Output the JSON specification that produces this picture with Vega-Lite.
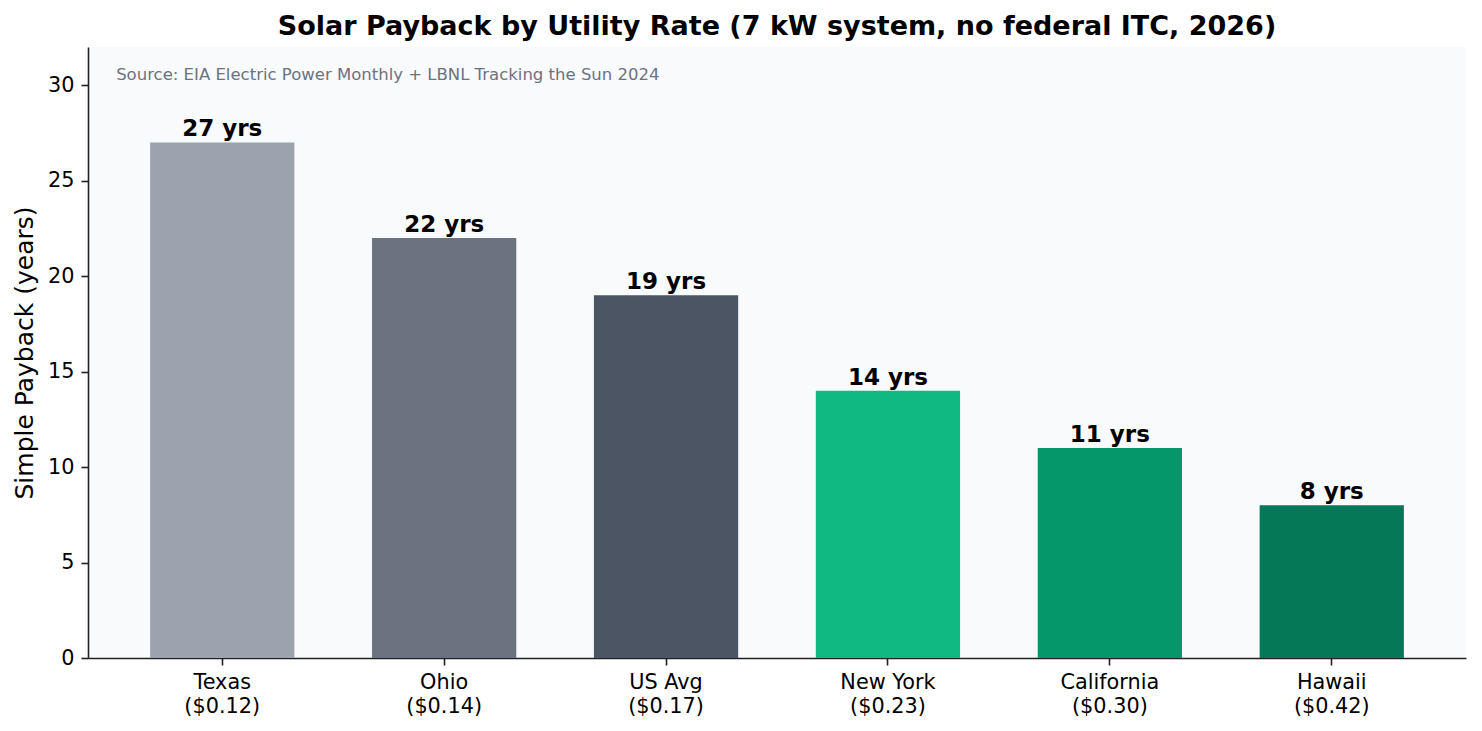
{
  "$schema": "https://vega.github.io/schema/vega-lite/v6.json",
  "width": 1378,
  "height": 611,
  "autosize": "none",
  "padding": {"left": 88, "top": 47, "right": 16, "bottom": 73},
  "background": "#ffffff",
  "config": {
    "font": "DejaVu Sans",
    "view": {"fill": "#f8fafc", "stroke": null},
    "axis": {"grid": false, "domainColor": "#222222", "domainWidth": 1.6, "tickColor": "#222222", "tickWidth": 1.6, "labelColor": "#000000", "titleColor": "#000000", "labelFont": "DejaVu Sans", "titleFont": "DejaVu Sans"}
  },
  "title": {
    "text": "Solar Payback by Utility Rate (7 kW system, no federal ITC, 2026)",
    "font": "DejaVu Sans",
    "fontSize": 27,
    "fontWeight": "bold",
    "color": "#000000",
    "anchor": "middle",
    "offset": 6
  },
  "data": {
    "values": [
      {"label": "Texas\n($0.12)", "years": 27, "text": "27 yrs", "color": "#9ca3af"},
      {"label": "Ohio\n($0.14)", "years": 22, "text": "22 yrs", "color": "#6b7280"},
      {"label": "US Avg\n($0.17)", "years": 19, "text": "19 yrs", "color": "#4b5563"},
      {"label": "New York\n($0.23)", "years": 14, "text": "14 yrs", "color": "#10b981"},
      {"label": "California\n($0.30)", "years": 11, "text": "11 yrs", "color": "#059669"},
      {"label": "Hawaii\n($0.42)", "years": 8, "text": "8 yrs", "color": "#047857"}
    ]
  },
  "layer": [
    {
      "mark": {"type": "bar"},
      "encoding": {
        "x": {
          "field": "label",
          "type": "nominal",
          "sort": null,
          "scale": {"paddingInner": 0.35, "paddingOuter": 0.28},
          "axis": {
            "title": null,
            "labelAngle": 0,
            "labelFontSize": 20.8,
            "labelPadding": 7,
            "tickSize": 7,
            "labelLineHeight": 24,
            "labelExpr": "split(datum.label, '\\n')"
          }
        },
        "y": {
          "field": "years",
          "type": "quantitative",
          "scale": {"domain": [0, 32], "nice": false},
          "axis": {
            "title": "Simple Payback (years)",
            "titleFontSize": 25,
            "titleFontWeight": "normal",
            "titlePadding": 10,
            "labelFontSize": 20.8,
            "values": [0, 5, 10, 15, 20, 25, 30],
            "tickSize": 7,
            "labelPadding": 7
          }
        },
        "color": {"field": "color", "type": "nominal", "scale": null}
      }
    },
    {
      "mark": {"type": "text", "baseline": "alphabetic", "dy": -6, "fontSize": 23, "fontWeight": "bold", "color": "#000000"},
      "encoding": {
        "x": {"field": "label", "type": "nominal", "sort": null},
        "y": {"field": "years", "type": "quantitative"},
        "text": {"field": "text", "type": "nominal"}
      }
    },
    {
      "data": {"values": [{"note": "Source: EIA Electric Power Monthly + LBNL Tracking the Sun 2024"}]},
      "mark": {"type": "text", "align": "left", "baseline": "top", "dx": -34, "fontSize": 16.5, "color": "#6b7280"},
      "encoding": {
        "x": {"datum": "Texas\n($0.12)", "type": "nominal", "bandPosition": 0},
        "y": {"datum": 30.94, "type": "quantitative"},
        "text": {"field": "note", "type": "nominal"}
      }
    }
  ]
}
